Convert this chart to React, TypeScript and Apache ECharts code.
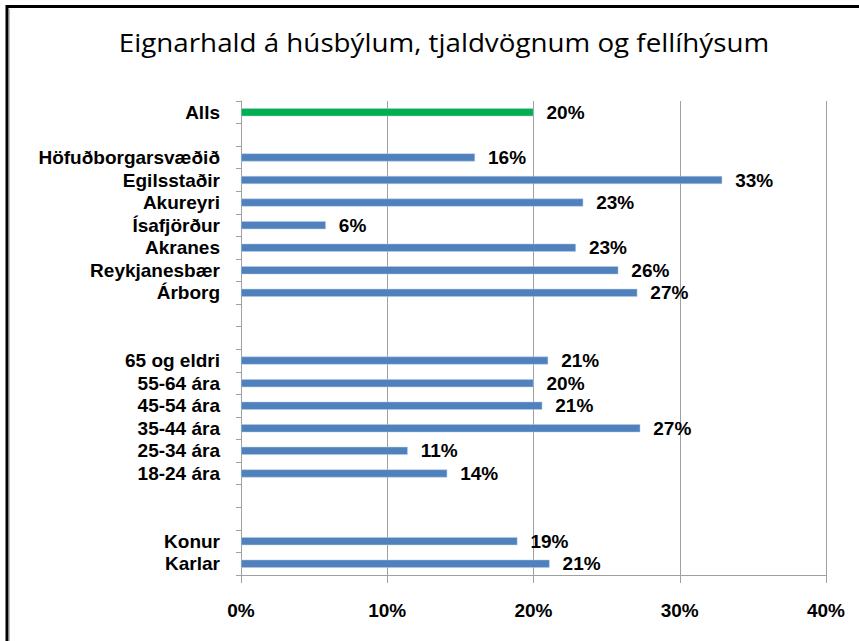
import React, { useEffect, useRef } from "react";
import * as echarts from "echarts";

const TITLE = "Eignarhald á húsbýlum, tjaldvögnum og fellíhýsum";

const categories: string[] = [
  "Alls",
  "",
  "Höfuðborgarsvæðið",
  "Egilsstaðir",
  "Akureyri",
  "Ísafjörður",
  "Akranes",
  "Reykjanesbær",
  "Árborg",
  " ",
  "  ",
  "65 og eldri",
  "55-64 ára",
  "45-54 ára",
  "35-44 ára",
  "25-34 ára",
  "18-24 ára",
  "   ",
  "    ",
  "Konur",
  "Karlar",
];

const values: (number | null)[] = [
  20.0,
  null,
  16.0,
  32.9,
  23.4,
  5.8,
  22.9,
  25.8,
  27.1,
  null,
  null,
  21.0,
  20.0,
  20.6,
  27.3,
  11.4,
  14.1,
  null,
  null,
  18.9,
  21.1,
];

const xTicks = [0, 10, 20, 30, 40];
const highlightIndex = 0;

const BLUE = "#4F81BD";
const GREEN = "#00B050";
const TITLE_FONT = "'Open Sans', 'Noto Sans', sans-serif";
const FONT = "'Liberation Sans', Arial, sans-serif";

export default function App() {
  const ref = useRef<HTMLDivElement>(null);

  useEffect(() => {
    if (!ref.current) return;
    const chart = echarts.init(ref.current, null, { renderer: "svg" });
    const data = values.map((v, i) =>
      i === highlightIndex ? { value: v, itemStyle: { color: GREEN } } : v
    );
    chart.setOption({
      animation: false,
      backgroundColor: "#ffffff",
      grid: { left: 241, top: 101, width: 585, height: 474, containLabel: false },
      xAxis: {
        type: "value",
        min: xTicks[0],
        max: xTicks[xTicks.length - 1],
        interval: xTicks[1] - xTicks[0],
        axisLine: { show: true, lineStyle: { color: "#a0a0a0", width: 1 } },
        axisTick: { show: true, length: 8, lineStyle: { color: "#a0a0a0" } },
        splitLine: { show: true, lineStyle: { color: "#a0a0a0", width: 1 } },
        axisLabel: {
          formatter: "{value}%",
          margin: 26,
          color: "#000",
          fontFamily: FONT,
          fontWeight: "bold",
          fontSize: 19,
        },
      },
      yAxis: {
        type: "category",
        inverse: true,
        data: categories,
        axisLine: { show: true, lineStyle: { color: "#a0a0a0", width: 1 } },
        axisTick: { show: true, length: 5, lineStyle: { color: "#a0a0a0" } },
        splitLine: { show: false },
        axisLabel: {
          margin: 21,
          color: "#000",
          fontFamily: FONT,
          fontWeight: "bold",
          fontSize: 19,
          lineHeight: 20,
          interval: 0,
        },
      },
      series: [
        {
          type: "bar",
          data,
          barWidth: 8,
          itemStyle: { color: BLUE, borderColor: "#b9cde5", borderWidth: 0.5 },
          label: {
            show: true,
            position: "right",
            distance: 13,
            color: "#000",
            fontFamily: FONT,
            fontWeight: "bold",
            fontSize: 19,
            lineHeight: 20,
            formatter: (p: any) => Math.round(p.value) + "%",
          },
        },
      ],
      graphic: [
        {
          type: "polyline",
          shape: { points: [[7, 700], [7, 6.5], [900, 6.5]] },
          style: { stroke: "#000", lineWidth: 3, fill: "none" },
          z: 10,
        },
        {
          type: "line",
          shape: { x1: 9.5, y1: 9, x2: 9.5, y2: 700 },
          style: { stroke: "#c0c0c0", lineWidth: 1 },
          z: 10,
        },
        {
          type: "text",
          x: 444,
          y: 43,
          scaleX: 1.11,
          style: {
            text: TITLE,
            fontFamily: TITLE_FONT,
            fontSize: 25,
            fill: "#000",
            textAlign: "center",
            textVerticalAlign: "middle",
          },
          z: 10,
        },
      ],
    });
    return () => chart.dispose();
  }, []);

  return (
    <div
      ref={ref}
      style={{ position: "fixed", left: 0, top: 0, width: 859, height: 641 }}
    />
  );
}
